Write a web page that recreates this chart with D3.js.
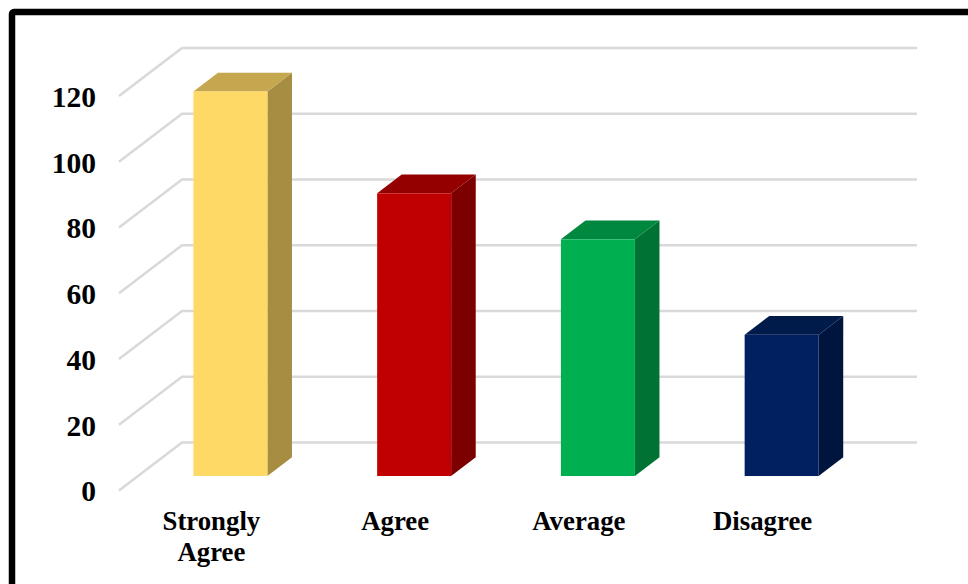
<!DOCTYPE html>
<html>
<head>
<style>
html, body { margin: 0; padding: 0; background: #fff; overflow: hidden; }
text { font-family: "Liberation Serif", serif; font-weight: bold; fill: #000; }
</style>
</head>
<body>
<script src="https://d3js.org/d3.v7.min.js"></script>
<script>
var categories = ["Strongly Agree", "Agree", "Average", "Disagree"]
var values = [117, 86, 72, 43]
var frontColors = ["#FFD966", "#C00000", "#00B050", "#002060"]
var sideColors = ["#A68D42", "#7D0000", "#007233", "#00153E"]
var topColors = ["#C4A74E", "#940000", "#00883E", "#001A4A"]
var yTicks = [0, 20, 40, 60, 80, 100, 120]

var svgWidth = 968
var svgHeight = 584

var svg = d3.select("body").append("svg")
	.attr("width", svgWidth)
	.attr("height", svgHeight)
	.style("display", "block")

// outer frame, runs off the right and bottom of the picture
svg.append("rect")
	.attr("x", 12)
	.attr("y", 12)
	.attr("width", 1000)
	.attr("height", 700)
	.attr("rx", 2)
	.attr("fill", "#fff")
	.attr("stroke", "#000")
	.attr("stroke-width", 6.5)

// front plane of the 3d box
var x = d3.scaleBand().domain(categories).range([119, 854])
var y = d3.scaleLinear().domain([0, 120]).range([490.5, 96])

// depth: t = 0 is the front plane, t = 1 the back wall
var depthX = 63
var depthY = -48
function px(v, t) { return v + depthX * t }
function py(v, t) { return v + depthY * t }

var barFront = 0.31
var barBack = 0.70
var barWidth = 74

// gridlines: floor/side diagonal then along the back wall
svg.append("g").selectAll("path")
	.data(yTicks)
	.join("path")
	.attr("d", function(d) {
		return "M" + x.range()[0] + " " + y(d) +
			"L" + px(x.range()[0], 1) + " " + py(y(d), 1) +
			"L" + px(x.range()[1], 1) + " " + py(y(d), 1)
	})
	.attr("fill", "none")
	.attr("stroke", "#D9D9D9")
	.attr("stroke-width", 2.5)

var bars = svg.append("g").selectAll("g")
	.data(categories)
	.join("g")
	.attr("transform", "translate(0,0.4)")

function barLeft(c) { return x(c) + x.bandwidth() / 2 - barWidth / 2 }

// side face
bars.append("path")
	.attr("fill", function(c, i) { return sideColors[i] })
	.attr("d", function(c, i) {
		var r = barLeft(c) + barWidth
		var x0 = px(r, barFront), x1 = px(r, barBack)
		return "M" + x0 + " " + py(y(values[i]), barFront) +
			"L" + x1 + " " + py(y(values[i]), barBack) +
			"L" + x1 + " " + py(y(0), barBack) +
			"L" + x0 + " " + py(y(0), barFront) + "Z"
	})

// top face
bars.append("path")
	.attr("fill", function(c, i) { return topColors[i] })
	.attr("d", function(c, i) {
		var l = barLeft(c), r = l + barWidth, v = y(values[i])
		return "M" + px(l, barFront) + " " + py(v, barFront) +
			"L" + px(l, barBack) + " " + py(v, barBack) +
			"L" + px(r, barBack) + " " + py(v, barBack) +
			"L" + px(r, barFront) + " " + py(v, barFront) + "Z"
	})

// front face
bars.append("rect")
	.attr("x", function(c) { return px(barLeft(c), barFront) })
	.attr("y", function(c, i) { return py(y(values[i]), barFront) })
	.attr("width", barWidth)
	.attr("height", function(c, i) { return y(0) - y(values[i]) })
	.attr("fill", function(c, i) { return frontColors[i] })

// y axis labels
var yAxis = d3.axisLeft(y).tickValues(yTicks).tickSize(0).tickPadding(0)
var yg = svg.append("g")
	.attr("transform", "translate(96,1)")
	.call(yAxis)
yg.select(".domain").remove()
yg.selectAll("text")
	.style("font-family", '"Liberation Serif", serif')
	.style("font-size", "29.5px")
	.style("font-weight", "bold")
	.attr("fill", "#000")

// category labels, wrapped on the space
var catLabels = svg.append("g").selectAll("text")
	.data(categories)
	.join("text")
	.attr("text-anchor", "middle")
	.style("font-size", "26.8px")
	.attr("y", 530)
catLabels.selectAll("tspan")
	.data(function(c) {
		var words = c.split(" ")
		return words.map(function(w) { return { word: w, cat: c } })
	})
	.join("tspan")
	.attr("x", function(d) { return x(d.cat) + x.bandwidth() / 2 + 0.5 })
	.attr("dy", function(d, i) { return i ? 31 : 0 })
	.text(function(d) { return d.word })
</script>
</body>
</html>
